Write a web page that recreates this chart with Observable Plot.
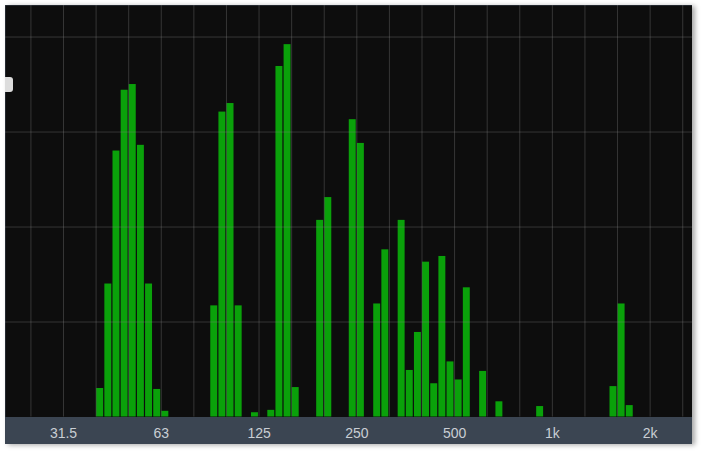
<!DOCTYPE html>
<html>
<head>
<meta charset="utf-8">
<script src="https://cdn.jsdelivr.net/npm/d3@7"></script>
<script src="https://cdn.jsdelivr.net/npm/@observablehq/plot@0.6"></script>
<style>
  html, body { margin: 0; padding: 0; background: #ffffff; }
  #wrap { position: absolute; left: 5px; top: 5px; width: 687px; height: 439px;
          box-shadow: 3px 1px 5px rgba(0,0,0,0.35); }
  #tab { position: absolute; left: 5px; top: 77px; width: 8px; height: 15px;
         background: #dcdcdc; border-radius: 0 3px 3px 0; }
</style>
</head>
<body>
<div id="wrap"></div>
<div id="tab"></div>
<script>
// 1/12-octave band index, counted from the 31.5 Hz band (0 = 31.5 Hz)
const bandIndex = [4, 5, 6, 7, 8, 9, 10, 11, 12,
                   18, 19, 20, 21, 23, 25, 26, 27, 28,
                   31, 32, 35, 36, 38, 39, 41, 42, 43, 44, 45, 46, 47, 48, 49, 51, 53,
                   58, 67, 68, 69];
// level of each band (one grid division = 10)
const bandLevel = [3.0, 14.0, 28.0, 34.4, 35.0, 28.6, 14.0, 2.9, 0.6,
                   11.7, 32.1, 33.0, 11.7, 0.45, 0.7, 36.9, 39.2, 3.1,
                   20.7, 23.1, 31.3, 28.8, 11.9, 17.6, 20.7, 4.9, 8.9, 16.3, 3.5, 16.9, 5.8, 3.9, 13.6, 4.8, 1.6,
                   1.1, 3.2, 11.9, 1.2];
// tick labels along the frequency axis
const tickLabels = ["31.5", "63", "125", "250", "500", "1k", "2k"];
const tickBands = [0, 12, 24, 36, 48, 60, 72];
// grid: every third-octave, and level divisions
const gridBands = [-4, 0, 4, 8, 12, 16, 20, 24, 28, 32, 36, 40, 44, 48, 52, 56, 60, 64, 68, 72, 76];
const gridLevels = [10, 20, 30, 40];

const bars = bandIndex.map((b, i) => ({band: b, level: bandLevel[i]}));
const labelOf = new Map(tickBands.map((b, i) => [b, tickLabels[i]]));

const chart = Plot.plot({
  width: 687,
  height: 439,
  marginTop: 0,
  marginRight: 0,
  marginLeft: 0,
  marginBottom: 27.5,
  style: {background: "#3b4552", fontFamily: "'Liberation Sans', Arial, sans-serif"},
  x: {type: "linear", domain: [-7.12, 77.2], axis: null},
  y: {domain: [0, 43.32], axis: null},
  marks: [
    Plot.frame({fill: "#0d0d0d", stroke: "none"}),
    Plot.rectY(bars, {x1: "band", x2: d => d.band + 1, y: "level", fill: "#0aa10a", insetLeft: 0.6, insetRight: 0.6}),
    Plot.gridX(gridBands, {stroke: "#8a8a8a", strokeOpacity: 0.33}),
    Plot.gridY(gridLevels, {stroke: "#8a8a8a", strokeOpacity: 0.33}),
    Plot.axisX(tickBands, {tickSize: 0, tickPadding: 11, fontSize: 14, fill: "#c9ced4", label: null,
                           tickFormat: d => labelOf.get(d)})
  ]
});
document.getElementById("wrap").appendChild(chart);
</script>
</body>
</html>
